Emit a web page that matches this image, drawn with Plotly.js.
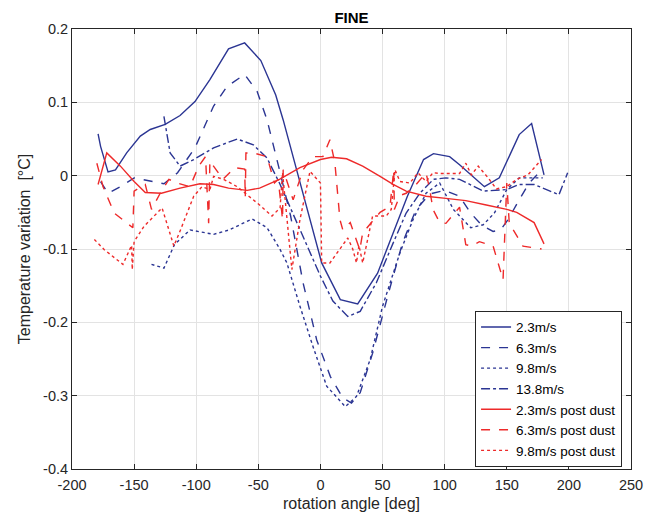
<!DOCTYPE html>
<html>
<head>
<meta charset="utf-8">
<script src="https://cdn.plot.ly/plotly-3.0.1.min.js"></script>
<style>html,body{margin:0;padding:0;background:#fff;}#chart{width:664px;height:519px;}</style>
</head>
<body>
<div id="chart"></div>
<script>
// ---- data ----
const names = ["2.3m/s","6.3m/s","9.8m/s","13.8m/s","2.3m/s post dust","6.3m/s post dust","9.8m/s post dust"];

const x23 = [-179,-177,-171,-165,-156,-145,-137,-125,-113,-101,-89,-74,-61,-48,-36,-30,1,16,30,46,70,83,91,104,112,132,144,160,170,180];
const y23 = [0.057,0.04,0.005,0.008,0.031,0.054,0.063,0.07,0.082,0.101,0.131,0.173,0.181,0.157,0.11,0.076,-0.119,-0.169,-0.175,-0.133,-0.028,0.022,0.03,0.026,0.015,-0.015,-0.003,0.056,0.071,0.001];

const x63 = [-177,-171,-161,-150,-126,-115,-101,-86,-75,-61,-51,-43,-33,-24,-14,-3,8,18,25,32,42,54,66,77,88,100,112,121,130,139,145,151,160,168,176,180];
const y63 = [-0.008,-0.024,-0.015,-0.003,-0.011,0.004,0.038,0.095,0.122,0.138,0.115,0.076,0.008,-0.055,-0.146,-0.224,-0.274,-0.303,-0.31,-0.296,-0.242,-0.165,-0.092,-0.046,-0.025,-0.02,-0.028,-0.051,-0.068,-0.076,-0.074,-0.06,-0.033,-0.01,0.004,0.001];

const x98 = [-136,-126,-117.5,-105,-86,-73.5,-55,-43,-33,-27,-16.5,-6,5,20,29,40,50,64,74.5,85,96,107,121,131,140,150,160,179];
const y98 = [-0.121,-0.126,-0.094,-0.074,-0.08,-0.074,-0.059,-0.071,-0.099,-0.119,-0.178,-0.233,-0.287,-0.315,-0.301,-0.251,-0.178,-0.105,-0.06,-0.024,-0.01,-0.046,-0.071,-0.067,-0.051,-0.019,-0.003,-0.003];

const x138 = [-126,-121,-113,-102,-86,-67,-54,-43,-33,-16.5,0,10,22,32,45,58.5,69,80,91,101,112,131,150,160,172,182,192,199];
const y138 = [0.081,0.031,0.013,0.022,0.038,0.05,0.042,0.024,-0.01,-0.074,-0.137,-0.171,-0.192,-0.185,-0.146,-0.092,-0.051,-0.024,-0.005,-0.003,-0.005,-0.021,-0.019,-0.012,-0.012,-0.019,-0.026,0.004];

const xp23 = [-179,-172,-161,-150,-141,-128,-113,-97,-86,-74,-59,-49,-33,-16.5,0,9,21,34,48,58.5,69,85,101,117,133.5,150,158,172,180];
const yp23 = [-0.012,0.031,0.013,-0.008,-0.023,-0.024,-0.017,-0.011,-0.012,-0.017,-0.02,-0.017,-0.005,0.011,0.022,0.025,0.023,0.013,-0.001,-0.012,-0.021,-0.028,-0.031,-0.034,-0.04,-0.046,-0.05,-0.064,-0.093];

const xp63 = [-180,-175,-166,-151,-150,-141,-136,-129,-122,-115.5,-105,-98,-92.5,-90,-89,-78.5,-69,-61,-60.5,-60,-54,-43,-37,-34,-30.5,-30,-22,-14,-6,2,7.6,11.6,15.7,18,24,29,31.7,34,45,48,56,59,59.5,64,69,77,85,88,90.6,96,101,104,112,117,121.5,128,139,147,150,152,163,178];
const yp63 = [0.017,-0.015,-0.051,-0.071,-0.021,-0.012,-0.046,-0.024,-0.005,-0.01,-0.015,0.013,0.026,-0.065,0.02,-0.005,0.011,0.009,-0.029,0.031,0.031,0.026,-0.01,-0.005,-0.06,0.008,-0.033,0.008,0.026,0.026,0.049,0.018,-0.06,-0.074,-0.064,-0.087,-0.101,-0.078,-0.055,-0.05,-0.042,0.008,-0.046,-0.027,-0.024,-0.012,0.004,-0.019,-0.046,-0.064,-0.065,-0.059,-0.043,-0.094,-0.096,-0.09,-0.096,-0.142,-0.01,-0.065,-0.096,-0.1];

const xp98 = [-182,-174,-159,-152,-151.5,-150,-142,-127.5,-122,-118,-113.6,-102,-95.4,-89,-86,-78,-67,-59,-49,-39,-32.5,-30.5,-23,-16.5,-8.4,0,1,7.6,22,26,29,31,34,42,53,57,60,64,72,78.5,85,90.6,96,112,117,121.5,127,135,141.6,150,158,167,178];
const yp98 = [-0.087,-0.101,-0.121,-0.095,-0.128,-0.09,-0.069,-0.044,-0.074,-0.096,-0.078,-0.028,-0.015,-0.019,-0.001,-0.005,-0.015,-0.026,-0.04,-0.055,-0.044,0.004,-0.128,-0.06,0.006,-0.01,-0.119,-0.119,-0.085,-0.1,-0.119,-0.095,-0.119,-0.055,-0.055,-0.046,0.008,-0.008,-0.01,0.004,-0.008,0.004,0.003,0.003,0.017,0.001,0.013,-0.003,-0.018,-0.015,-0.005,0.001,0.022];

const xTicks = [-200,-150,-100,-50,0,50,100,150,200,250];
const xTickText = ["-200","-150","-100","-50","0","50","100","150","200","250"];
const yTicks = [-0.4,-0.3,-0.2,-0.1,0,0.1,0.2];
const yTickText = ["-0.4","-0.3","-0.2","-0.1","0","0.1","0.2"];

// ---- styling ----
const BLUE = "#2b3593";
const RED = "#ee2a2a";
const series = [
  [x23,y23,BLUE,"solid"],
  [x63,y63,BLUE,"dash"],
  [x98,y98,BLUE,"dot"],
  [x138,y138,BLUE,"dashdot"],
  [xp23,yp23,RED,"solid"],
  [xp63,yp63,RED,"dash"],
  [xp98,yp98,RED,"dot"]
];
const traces = series.map((s,i)=>({
  x:s[0], y:s[1], name:names[i], type:"scatter", mode:"lines",
  line:{color:s[2], dash:s[3], width:1.4}
}));

const font = "Liberation Sans, Arial, Helvetica, sans-serif";
const layout = {
  width:664, height:519,
  margin:{l:72,r:33,t:29,b:50},
  paper_bgcolor:"#fff", plot_bgcolor:"#fff",
  font:{family:font, size:14.5, color:"#262626"},
  title:{text:"<b>FINE</b>", x:0.5, xref:"paper", y:1, yref:"paper", yanchor:"bottom", pad:{b:6}, font:{family:font,size:15,color:"#000"}},
  xaxis:{range:[-200,250], tickvals:xTicks, ticktext:xTickText, ticks:"inside", ticklen:5, tickcolor:"#262626",
    showline:true, mirror:"ticks", linecolor:"#262626", linewidth:1, showgrid:true, gridcolor:"#e3e3e3", zeroline:false,
    ticklabelstandoff:3,
    title:{text:"rotation angle [deg]", font:{size:16}, standoff:5}},
  yaxis:{range:[-0.4,0.2], tickvals:yTicks, ticktext:yTickText, ticks:"inside", ticklen:5, tickcolor:"#262626",
    showline:true, mirror:"ticks", linecolor:"#262626", linewidth:1, showgrid:true, gridcolor:"#e3e3e3", zeroline:false,
    title:{text:"Temperature variation  [°C]", font:{size:16}, standoff:8}},
  legend:{x:0.984, xanchor:"right", y:0.005, yanchor:"bottom", bgcolor:"#fff", bordercolor:"#262626", borderwidth:1,
    font:{size:13.5,color:"#000"}, tracegroupgap:0, itemwidth:30},
  showlegend:true
};
Plotly.newPlot("chart", traces, layout, {staticPlot:true, displayModeBar:false});
</script>
</body>
</html>
